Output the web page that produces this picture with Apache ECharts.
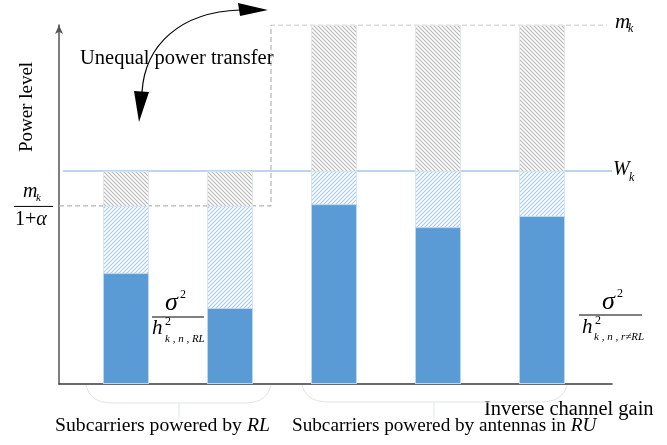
<!DOCTYPE html>
<html>
<head>
<meta charset="utf-8">
<script src="https://cdn.jsdelivr.net/npm/echarts@6/dist/echarts.min.js"></script>
<style>
  html, body { margin: 0; padding: 0; background: #fff; }
  #chart { width: 667px; height: 445px; }
</style>
</head>
<body>
<div id="chart"></div>
<script>
// subcarrier positions (1,2 powered by RL; 3..5 powered by antennas in RU)
const subcarriers = [1, 2, 3, 4, 5];
// inverse channel gain sigma^2/h^2 per subcarrier (power level units, 0..100)
const inverseGain = [30.9, 21.2, 50.1, 43.7, 46.8];
// water level reached by blue hatched part
const waterLevel = [49.6, 49.6, 59.3, 59.3, 59.3];
// upper power limit (grey hatched part top)
const powerCap = [59.3, 59.3, 100, 100, 100];
// reference levels
const levelMk = 100;
const levelWk = 59.3;
const levelMkAlpha = 49.6;

const FONT = "'Liberation Serif', 'DejaVu Serif', serif";
const xMin = 0.356;
const xMax = 5.673;

/** diagonal hatch pattern */
const hatch = (color, dir) => {
  const s = 4;
  const c = document.createElement("canvas");
  c.width = s;
  c.height = s;
  const g = c.getContext("2d");
  g.fillStyle = "#fff";
  g.fillRect(0, 0, s, s);
  g.strokeStyle = color;
  g.lineWidth = 1.1;
  g.beginPath();
  if (dir > 0) {
    // "/"
    g.moveTo(0, s); g.lineTo(s, 0);
    g.moveTo(-1, 1); g.lineTo(1, -1);
    g.moveTo(s - 1, s + 1); g.lineTo(s + 1, s - 1);
  } else {
    // "\"
    g.moveTo(0, 0); g.lineTo(s, s);
    g.moveTo(-1, s - 1); g.lineTo(1, s + 1);
    g.moveTo(s - 1, -1); g.lineTo(s + 1, 1);
  }
  g.stroke();
  return c;
};

const chart = echarts.init(document.getElementById("chart"));

const option = {
  animation: false,
  backgroundColor: "#fff",
  grid: { left: 59, right: 55, top: 25, bottom: 61 },
  xAxis: {
    type: "value",
    min: xMin,
    max: xMax,
    axisLine: { show: true, onZero: false, lineStyle: { color: "#3a3a3a", width: 1.5 } },
    axisTick: { show: false },
    axisLabel: { show: false },
    splitLine: { show: false }
  },
  yAxis: {
    type: "value",
    min: 0,
    max: 100,
    axisLine: {
      show: true,
      symbol: ["none", "arrow"],
      symbolSize: [6, 9],
      lineStyle: { color: "#555", width: 1.5 }
    },
    axisTick: { show: false },
    axisLabel: { show: false },
    splitLine: { show: false }
  },
  series: [
    {
      name: "Wk",
      type: "line",
      symbol: "none",
      silent: true,
      z: 1,
      lineStyle: { color: "#a8c6e6", width: 1.5 },
      data: [[0.394, levelWk], [xMax, levelWk]]
    },
    {
      name: "limit",
      type: "line",
      symbol: "none",
      silent: true,
      z: 1,
      lineStyle: { color: "#b4b4b4", width: 1.2, type: [5, 3] },
      data: [[xMin, levelMkAlpha], [2.394, levelMkAlpha], [2.394, levelMk], [5.625, levelMk]]
    },
    // bars overlap at the same x: grey (cap) behind, blue hatch, then solid inverse gain on top
    {
      name: "grayHatch",
      type: "bar",
      barWidth: 46,
      barGap: "-100%",
      z: 2,
      itemStyle: {
        color: { image: hatch("#b6b6b6", -1), repeat: "repeat" },
        borderColor: "#e2e7ee",
        borderWidth: 1
      },
      data: subcarriers.map((x, i) => [x, powerCap[i]])
    },
    {
      name: "blueHatch",
      type: "bar",
      barWidth: 46,
      barGap: "-100%",
      z: 3,
      itemStyle: {
        color: { image: hatch("#a6c8ea", 1), repeat: "repeat" },
        borderColor: "#d6e4f3",
        borderWidth: 1
      },
      data: subcarriers.map((x, i) => [x, waterLevel[i]])
    },
    {
      name: "inverse",
      type: "bar",
      barWidth: 46,
      barGap: "-100%",
      z: 4,
      itemStyle: { color: "#5b9bd5", borderColor: "#bdd7ee", borderWidth: 1 },
      data: subcarriers.map((x, i) => [x, inverseGain[i]])
    }
  ]
};

chart.setOption(option);

/** text helper */
const txt = (x, y, text, size, italic, extra) => ({
  type: "text",
  x,
  y,
  silent: true,
  z: 10,
  style: Object.assign(
    {
      text,
      fontSize: size,
      fontFamily: FONT,
      fontStyle: italic ? "italic" : "normal",
      fill: "#000",
      align: "left",
      verticalAlign: "middle"
    },
    extra || {}
  )
});
const line = (x1, y1, x2, y2, color, w) => ({
  type: "line",
  silent: true,
  z: 10,
  shape: { x1, y1, x2, y2 },
  style: { stroke: color, lineWidth: w }
});
const curve = (x1, y1, cpx1, cpy1, cpx2, cpy2, x2, y2, color, w) => ({
  type: "bezierCurve",
  silent: true,
  z: 10,
  shape: { x1, y1, cpx1, cpy1, cpx2, cpy2, x2, y2 },
  style: { stroke: color, lineWidth: w, fill: null }
});
const brace = (xl, xr, yTop, yBot, xMid, yTick) => {
  const c = "#dde4ec";
  return [
    curve(xl, yTop, xl + 4, yBot - 3, xl + 14, yBot, xl + 29, yBot, c, 1),
    line(xl + 29, yBot, xr - 29, yBot, c, 1),
    curve(xr - 29, yBot, xr - 14, yBot, xr - 4, yBot - 3, xr, yTop, c, 1),
    line(xMid, yBot, xMid, yTick, c, 1)
  ];
};

const px = (x, y) => chart.convertToPixel({ gridIndex: 0 }, [x, y]);
const yMk = px(xMax, levelMk)[1];
const yWk = px(xMax, levelWk)[1];
const yMa = px(xMin, levelMkAlpha)[1];
const rich = (s) => ({ i: { fontStyle: "italic", fontSize: s, fontFamily: FONT } });

const powerLevel = txt(27, 107, "Power level", 19, false, { align: "center" });
powerLevel.rotation = Math.PI / 2;

const graphics = [
  // axis title
  powerLevel,
  // curved double arrow
  txt(80, 59, "Unequal power transfer", 20.5, false),
  curve(240, 10, 180, 12, 145, 45, 142, 92, "#000", 1.2),
  { type: "polygon", silent: true, z: 10, shape: { points: [[238, 3], [268, 10], [240, 16]] }, style: { fill: "#000" } },
  { type: "polygon", silent: true, z: 10, shape: { points: [[134, 91], [149, 92], [139, 122]] }, style: { fill: "#000" } },
  // right labels
  txt(615, yMk - 3, "m", 21, true),
  txt(628, yMk + 4, "k", 12, true),
  txt(613, yWk - 1, "W", 20, true),
  txt(629, yWk + 7, "k", 12, true),
  // left fraction m_k / (1+alpha)
  txt(23, yMa - 14, "m", 20, true),
  txt(36, yMa - 8, "k", 11, true),
  line(14, yMa + 0.5, 53, yMa + 0.5, "#000", 1),
  txt(15, yMa + 14, "1+{i|α}", 20, false, { rich: rich(20) }),
  // sigma^2 / h^2 (RL)
  txt(165, 303, "σ", 26, true),
  txt(180, 295, "2", 12, false),
  line(152, 317, 204, 317, "#000", 1),
  txt(152, 328, "h", 21, true),
  txt(165, 322, "2", 12, false),
  txt(165, 339, "k , n , RL", 11, true),
  // sigma^2 / h^2 (r != RL)
  txt(602, 302, "σ", 26, true),
  txt(617, 294, "2", 12, false),
  line(579, 315, 642, 315, "#000", 1),
  txt(582, 327, "h", 21, true),
  txt(595, 321, "2", 12, false),
  txt(594, 337, "k , n , r≠RL", 11, true),
  // bottom labels
  txt(484, 410, "Inverse channel gain", 20.5, false),
  txt(55, 426, "Subcarriers powered by {i|RL}", 19.7, false, { rich: rich(19.7) }),
  txt(292, 426, "Subcarriers powered by antennas in {i|RU}", 19.2, false, { rich: rich(19.2) })
]
  .concat(brace(86, 271, 385, 403, 179, 417))
  .concat(brace(302, 567, 385, 402, 434, 418));

chart.setOption({ graphic: graphics });
</script>
</body>
</html>
